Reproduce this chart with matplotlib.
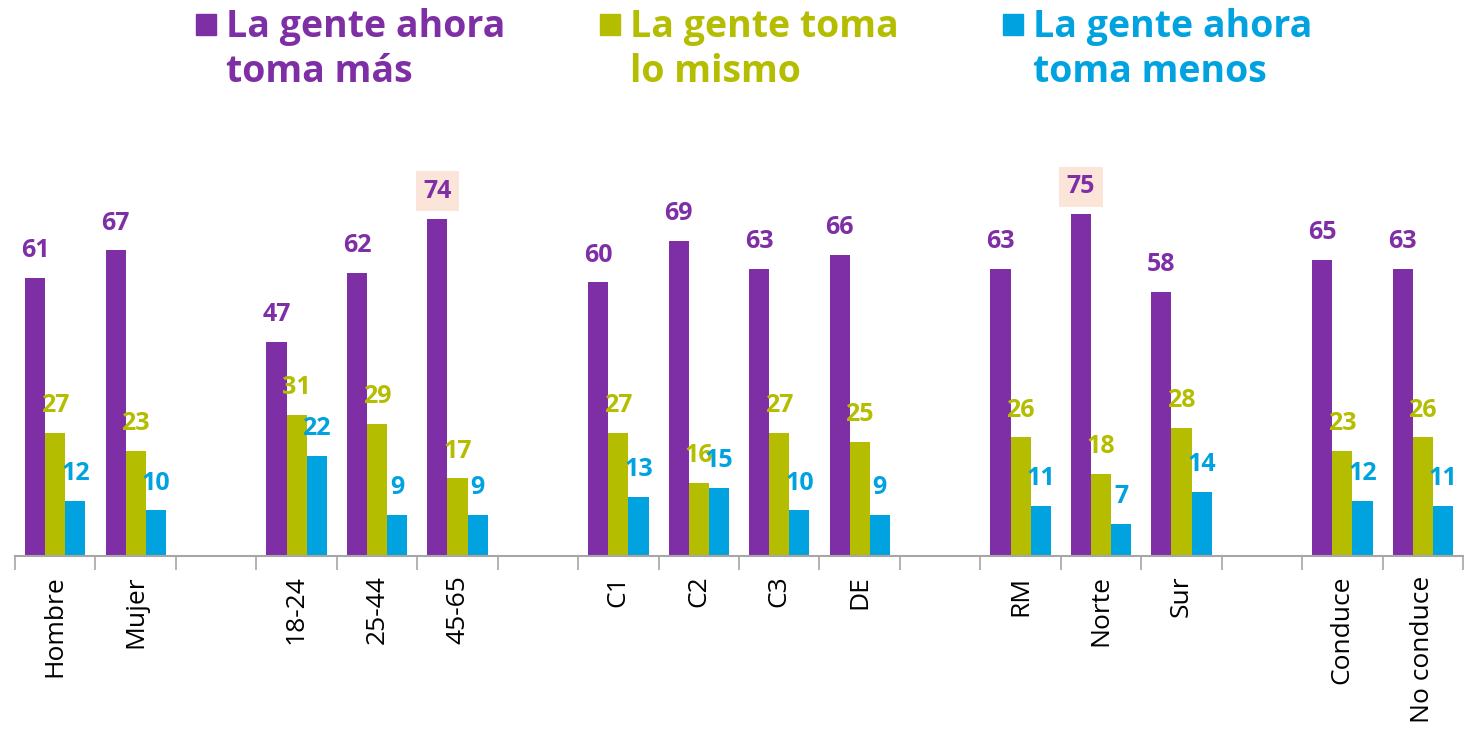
import matplotlib.pyplot as plt
import numpy as np

categories = ["Hombre", "Mujer", "", "18-24", "25-44", "45-65", "",
              "C1", "C2", "C3", "DE", "", "RM", "Norte", "Sur", "",
              "Conduce", "No conduce"]
series = ["La gente ahora\ntoma más", "La gente toma\nlo mismo", "La gente ahora\ntoma menos"]
mas = [61, 67, None, 47, 62, 74, None, 60, 69, 63, 66, None, 63, 75, 58, None, 65, 63]
mismo = [27, 23, None, 31, 29, 17, None, 27, 16, 27, 25, None, 26, 18, 28, None, 23, 26]
menos = [12, 10, None, 22, 9, 9, None, 13, 15, 10, 9, None, 11, 7, 14, None, 12, 11]
highlight = [74, 75]  # max values marked with a box

colors = ["#7F2FA5", "#B5BD00", "#00A3E0"]
plt.rcParams['font.family'] = ['Open Sans', 'DejaVu Sans']

fig = plt.figure(figsize=(14.73, 7.38), dpi=100)
ax = fig.add_axes([15 / 1473, 1 - 556 / 738, 1448 / 1473, 456 / 738])

x = np.arange(len(categories))
w = 0.25
for k, (vals, col) in enumerate(zip([mas, mismo, menos], colors)):
    idx = [i for i, v in enumerate(vals) if v is not None]
    hs = [vals[i] for i in idx]
    xs = x[idx] + (k - 1) * w
    ax.bar(xs, hs, width=w, color=col)
    for xi, h in zip(xs, hs):
        box = None
        if k == 0 and h in highlight:
            box = dict(boxstyle="square,pad=0.3", fc="#FAE5D8", ec="none")
        ax.text(xi, h + 6, str(h), ha="center", va="center", color=col,
                fontsize=18, fontweight="bold", bbox=box)

ax.set_xlim(-0.5, len(categories) - 0.5)
ax.set_ylim(0, 100)
for s in ["top", "right", "left"]:
    ax.spines[s].set_visible(False)
ax.spines["bottom"].set_color("#A6A6A6")
ax.spines["bottom"].set_linewidth(1.5)
ax.set_yticks([])
ax.set_xticks(x)
ax.set_xticklabels(categories, rotation=90, fontsize=19, va="top")
ax.tick_params(axis="x", which="major", length=0, pad=14)
ax.set_xticks(np.arange(-0.5, len(categories), 1), minor=True)
ax.tick_params(axis="x", which="minor", length=10, width=1.2, color="#A6A6A6")

# legend drawn by hand: square + two-line label
leg_x = [196, 600, 1003]
for lx, name, col in zip(leg_x, series, colors):
    fig.patches.append(plt.Rectangle((lx / 1473, 1 - 35 / 738), 20 / 1473, 21 / 738,
                                     transform=fig.transFigure, color=col))
    for j, line in enumerate(name.split("\n")):
        fig.text((lx + 30) / 1473, 1 - (37 + 45 * j) / 738, line, ha="left",
                 va="baseline", color=col, fontsize=27, fontweight="bold")

fig.savefig("out.png", dpi=100)
